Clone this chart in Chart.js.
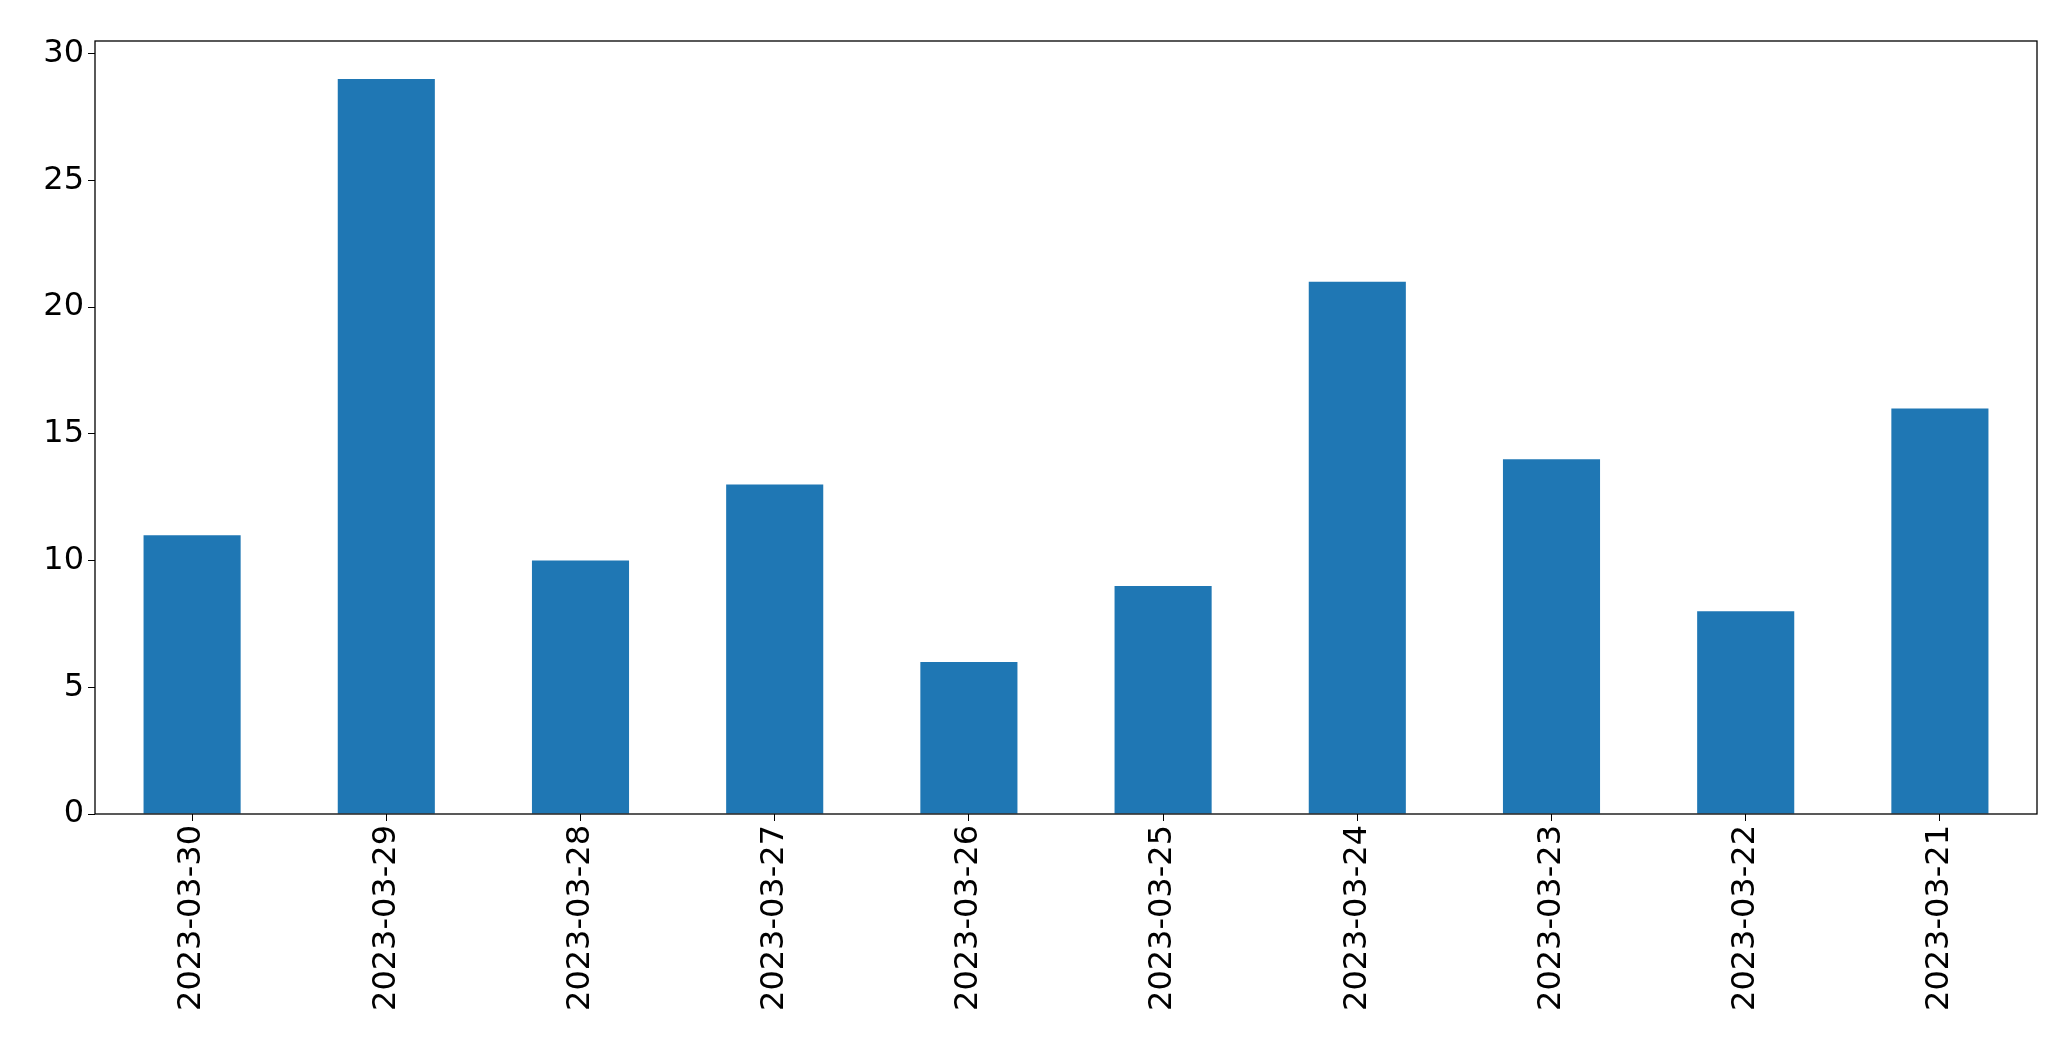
<!DOCTYPE html>
<html><head><meta charset="utf-8">
<script src="https://cdn.jsdelivr.net/npm/chart.js@4"></script>
<style>html,body{margin:0;padding:0;background:#fff}#w{width:2071px;height:1063px}</style>
</head><body><div id="w"><canvas id="c"></canvas></div>
<script>
const categories = ["2023-03-30","2023-03-29","2023-03-28","2023-03-27","2023-03-26","2023-03-25","2023-03-24","2023-03-23","2023-03-22","2023-03-21"];
const values = [11,29,10,13,6,9,21,14,8,16];
const yTicks = [0,5,10,15,20,25,30];

const frame = {id:'frame', afterDraw(ch){const a=ch.chartArea,c=ch.ctx;c.save();c.strokeStyle='#000';c.lineWidth=1.3;c.strokeRect(a.left,a.top,a.right-a.left,a.bottom-a.top);c.restore();}};
new Chart(document.getElementById('c'),{
  type:'bar',
  data:{labels:categories,datasets:[{data:values,backgroundColor:'#1f77b4',categoryPercentage:1,barPercentage:0.5}]},
  options:{
    responsive:true,maintainAspectRatio:false,animation:false,
    layout:{padding:{left:0,top:41,right:34,bottom:0}},
    plugins:{legend:{display:false},tooltip:{enabled:false}},
    scales:{
      x:{offset:true,
        grid:{display:true,drawOnChartArea:false,tickLength:7,color:'#000',offset:false},
        border:{display:false},
        ticks:{color:'#000',font:{family:'DejaVu Sans',size:32},maxRotation:90,minRotation:90,padding:4},
        afterFit(s){s.height=249;}},
      y:{min:0,max:30.5,
        afterBuildTicks(s){s.ticks=yTicks.map(v=>({value:v}));},
        grid:{display:true,drawOnChartArea:false,tickLength:7,color:'#000'},
        border:{display:false},
        ticks:{color:'#000',font:{family:'DejaVu Sans',size:32},padding:4},
        afterFit(s){s.width=95;}}
    }
  },
  plugins:[frame]
});
</script></body></html>
